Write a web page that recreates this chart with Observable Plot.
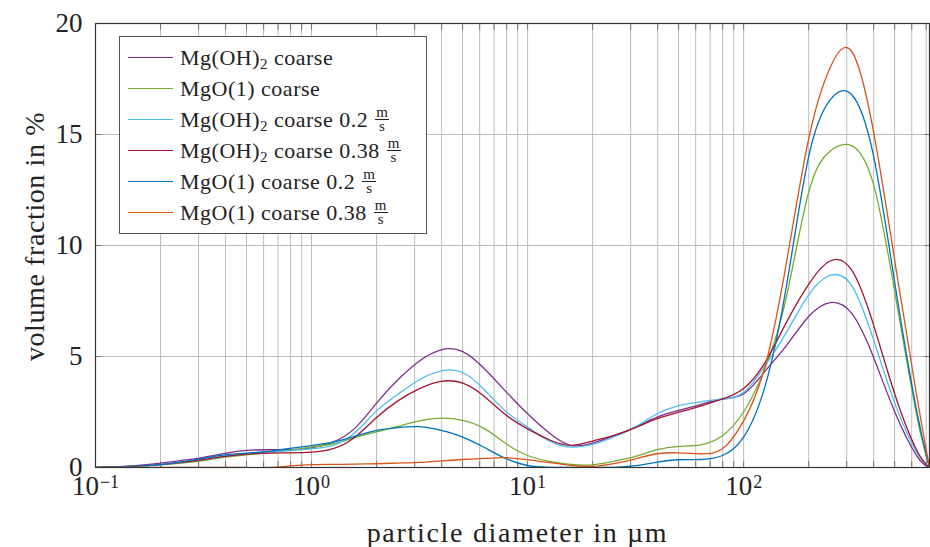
<!DOCTYPE html>
<html>
<head>
<meta charset="utf-8">
<script src="https://cdn.jsdelivr.net/npm/d3@7"></script>
<script src="https://cdn.jsdelivr.net/npm/@observablehq/plot@0.6"></script>
<style>
  body { margin: 0; background: #fff; }
  #wrap { position: relative; width: 930px; height: 547px; }
  #legend {
    position: absolute; left: 119px; top: 36px; width: 308px; height: 198px;
    box-sizing: border-box; border: 1px solid #555; background: #fff;
    font-family: "Liberation Serif", serif; font-size: 22px; color: #222;
    padding-top: 5px; letter-spacing: 0.5px;
  }
  .row { height: 31px; display: flex; align-items: center; white-space: nowrap; }
  .sample { width: 45px; height: 0; margin-left: 8px; margin-right: 7px; }
  .frac { display: inline-flex; flex-direction: column; align-items: center;
          font-size: 15px; line-height: 13px; vertical-align: middle; margin-left: 7px; }
  .frac .num { border-bottom: 0.8px solid #222; padding: 0 1px; }
  sub { font-size: 15px; vertical-align: -4px; line-height: 0; }
</style>
</head>
<body>
<div id="wrap"></div>
<script>
// particle diameter in µm (log-spaced size classes)
const diameters = [0.1, 0.126, 0.158, 0.2, 0.251, 0.316, 0.398, 0.501, 0.631, 0.794,
  1, 1.26, 1.58, 2, 2.51, 3.16, 3.98, 5.01, 6.31, 7.94,
  10, 12.6, 15.8, 20, 25.1, 31.6, 39.8, 50.1, 63.1, 79.4,
  100, 126, 158, 200, 251, 316, 398, 501, 631, 725];

const mgoh2Coarse = [0, 0.04, 0.1, 0.2, 0.32, 0.46, 0.64, 0.77, 0.8, 0.8,
  0.88, 1.15, 1.75, 2.9, 3.95, 4.8, 5.3, 5.22, 4.45, 3.42,
  2.42, 1.55, 1.0, 1.1, 1.42, 1.82, 2.27, 2.57, 2.83, 3.08,
  3.32, 4.35, 5.5, 6.8, 7.43, 6.95, 5.0, 2.5, 0.55, 0];

const mgo1Coarse = [0, 0.03, 0.06, 0.12, 0.2, 0.31, 0.47, 0.57, 0.67, 0.78,
  0.92, 1.07, 1.34, 1.6, 1.85, 2.1, 2.22, 2.12, 1.75, 1.08,
  0.54, 0.28, 0.14, 0.12, 0.28, 0.5, 0.8, 0.95, 1.02, 1.42,
  2.5, 4.5, 7.7, 12.4, 14.25, 14.5, 12.8, 7.9, 2.4, 0];

const mgoh2Coarse02 = [0, 0.03, 0.07, 0.13, 0.24, 0.38, 0.52, 0.62, 0.7, 0.76,
  0.84, 1.0, 1.55, 2.55, 3.3, 3.95, 4.35, 4.28, 3.5, 2.52,
  1.82, 1.2, 0.92, 1.04, 1.38, 1.83, 2.42, 2.79, 2.96, 3.08,
  3.39, 4.6, 6.1, 7.78, 8.65, 8.2, 5.8, 2.9, 0.7, 0];

const mgoh2Coarse038 = [0, 0.03, 0.07, 0.13, 0.23, 0.36, 0.5, 0.6, 0.65, 0.66,
  0.69, 0.85, 1.35, 2.25, 3.0, 3.55, 3.88, 3.8, 3.2, 2.36,
  1.74, 1.25, 1.0, 1.19, 1.45, 1.8, 2.2, 2.49, 2.77, 3.08,
  3.56, 4.75, 6.55, 8.25, 9.3, 8.9, 6.47, 3.3, 0.8, 0];

const mgo1Coarse02 = [0, 0.03, 0.07, 0.13, 0.25, 0.42, 0.57, 0.65, 0.73, 0.86,
  0.99, 1.14, 1.4, 1.67, 1.8, 1.84, 1.67, 1.37, 0.9, 0.4,
  0.09, 0.01, 0, 0, 0.01, 0.08, 0.24, 0.35, 0.36, 0.53,
  1.37, 3.7, 8.2, 14.0, 16.55, 16.8, 14.1, 8.3, 2.6, 0];

const mgo1Coarse038 = [0, 0, 0, 0, 0, 0, 0, 0, 0, 0.07,
  0.13, 0.14, 0.15, 0.17, 0.2, 0.23, 0.3, 0.36, 0.41, 0.44,
  0.35, 0.22, 0.1, 0.05, 0.17, 0.39, 0.62, 0.66, 0.62, 0.83,
  2.1, 4.6, 9.25, 14.8, 18.0, 18.75, 15.2, 9.3, 3.3, 0];

const seriesLabels = ["Mg(OH)2 coarse", "MgO(1) coarse", "Mg(OH)2 coarse 0.2",
  "Mg(OH)2 coarse 0.38", "MgO(1) coarse 0.2", "MgO(1) coarse 0.38"];
const seriesHasUnit = [false, false, true, true, true, true];
const seriesColors = ["#7E2F8E", "#77AC30", "#4DBEEE", "#A2142F", "#0072BD", "#D95319"];
const seriesValues = [mgoh2Coarse, mgo1Coarse, mgoh2Coarse02, mgoh2Coarse038, mgo1Coarse02, mgo1Coarse038];

const xMajorTicks = [0.1, 1, 10, 100];
const xMajorExponents = ["\u22121", "0", "1", "2"];
const yTicks = [0, 5, 10, 15, 20];
const yGrid = [5, 10, 15];
const xLabel = "particle diameter in µm";
const yLabel = "volume fraction in %";

// minor log grid: 1..9 × 10^k inside the domain
const xGrid = [];
for (const base of xMajorTicks) for (let m = 1; m <= 9; m++) { const v = +(m * base).toPrecision(3); if (v <= 725) xGrid.push(v); }

const rows = seriesLabels.flatMap((s, i) => diameters.map((d, j) => ({d, v: seriesValues[i][j], series: s})));

const chart = Plot.plot({
  width: 930, height: 547,
  marginLeft: 95, marginRight: 1, marginTop: 23, marginBottom: 80,
  style: {fontFamily: "'Liberation Serif', serif", fontSize: "27px", background: "white", color: "#222"},
  x: {type: "log", domain: [0.1, 725]},
  y: {domain: [0, 20]},
  color: {domain: seriesLabels, range: seriesColors},
  marks: [
    Plot.ruleX(xGrid, {stroke: "#bdbdbd", strokeWidth: 1}),
    Plot.ruleY(yGrid, {stroke: "#bdbdbd", strokeWidth: 1}),
    Plot.axisX(xGrid, {anchor: "bottom", tickSize: -6, tickFormat: () => "", label: null, stroke: "#777"}),
    Plot.axisX(xGrid, {anchor: "top", tickSize: -6, tickFormat: () => "", label: null, stroke: "#777"}),
    Plot.axisY(yTicks, {anchor: "left", tickSize: -6, tickFormat: () => "", label: null, stroke: "#777"}),
    Plot.axisY(yTicks, {anchor: "right", tickSize: -6, tickFormat: () => "", label: null, stroke: "#777"}),
    Plot.axisY(yTicks, {anchor: "left", tickSize: 0, tickPadding: 13, label: null, fontSize: 27}),
    Plot.line(rows, {x: "d", y: "v", stroke: "series", curve: "natural", strokeWidth: 1.3, clip: true}),
    Plot.frame({stroke: "#333", strokeWidth: 1.2}),
    Plot.text(xMajorTicks, {x: d => d, frameAnchor: "bottom", text: () => "10", dy: 27, fontSize: 27,
      textAnchor: "end"}),
    Plot.text(xMajorTicks, {x: d => d, frameAnchor: "bottom", text: (d, i) => xMajorExponents[i], dy: 20,
      fontSize: 18, textAnchor: "start"}),
    Plot.text([xLabel], {frameAnchor: "bottom", text: d => d, dy: 66, dx: 5, fontSize: 28, textAnchor: "middle",
      lineAnchor: "middle"}),
    Plot.text([yLabel], {frameAnchor: "left", text: d => d, rotate: -90, dx: -60, dy: -9, fontSize: 28,
      textAnchor: "middle", lineAnchor: "middle"})
  ]
});

document.getElementById("wrap").appendChild(chart);

// letter spacing for the axis titles
chart.querySelectorAll("text").forEach(t => {
  if (t.textContent === yLabel) t.setAttribute("letter-spacing", "0.6px");
  if (t.textContent === xLabel) t.setAttribute("letter-spacing", "1.7px");
});

// center each "10^k" label (base + exponent) on its tick
(function centerTickLabels() {
  const groups = chart.querySelectorAll("g[aria-label='text']");
  const bases = groups[0].querySelectorAll("text"), exps = groups[1].querySelectorAll("text");
  bases.forEach((b, i) => {
    const e = exps[i];
    const wb = b.getBBox().width, we = e.getBBox().width;
    const total = wb + we + 1;
    const shift = -(total / 2 - wb);
    b.setAttribute("transform", (b.getAttribute("transform") || "") + ` translate(${shift},0)`);
    e.setAttribute("transform", (e.getAttribute("transform") || "") + ` translate(${shift + 1},0)`);
  });
})();

// legend
const legend = document.createElement("div");
legend.id = "legend";
seriesLabels.forEach((s, i) => {
  const row = document.createElement("div");
  row.className = "row";
  const sample = document.createElement("span");
  sample.className = "sample";
  sample.style.borderTop = `1.3px solid ${seriesColors[i]}`;
  row.appendChild(sample);
  const label = document.createElement("span");
  label.innerHTML = s.replace("Mg(OH)2", "Mg(OH)<sub>2</sub>");
  row.appendChild(label);
  if (seriesHasUnit[i]) {
    const frac = document.createElement("span");
    frac.className = "frac";
    frac.innerHTML = '<span class="num">m</span><span>s</span>';
    row.appendChild(frac);
  }
  legend.appendChild(row);
});
document.getElementById("wrap").appendChild(legend);
</script>
</body>
</html>
